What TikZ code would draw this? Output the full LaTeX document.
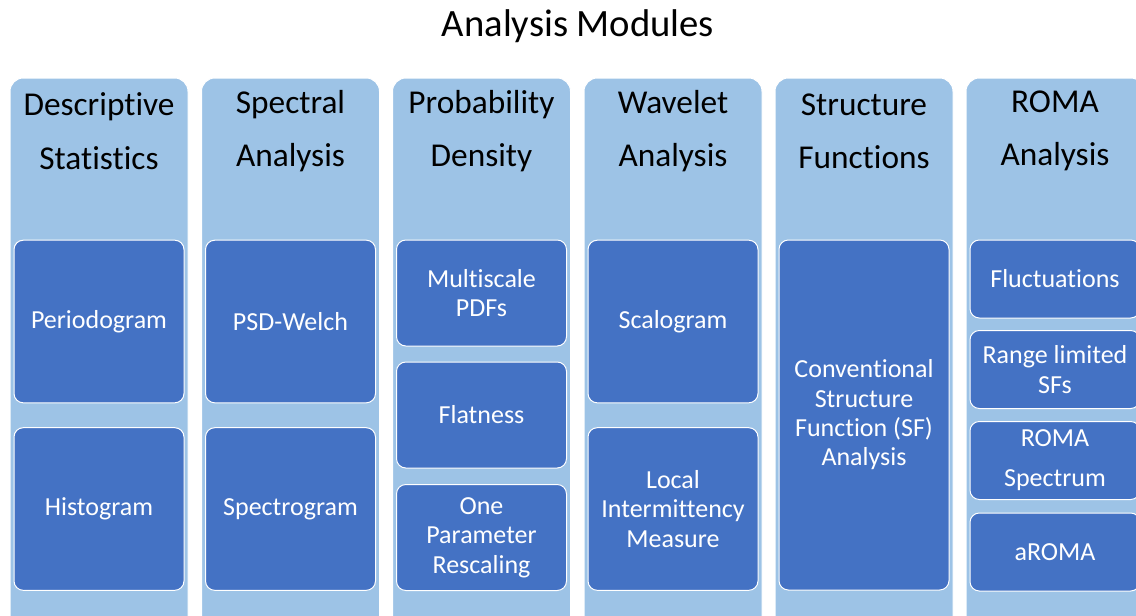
\documentclass[tikz,border=0pt]{standalone}
\usepackage{fontspec}
\setmainfont{Carlito}[Ligatures=NoCommon]
\usepackage{xcolor}
\definecolor{lightcol}{HTML}{9DC3E6}
\definecolor{darkcol}{HTML}{4472C4}

\begin{document}
\begin{tikzpicture}[x=0.75pt, y=-0.75pt,
    colbox/.style={fill=lightcol, draw=white, line width=0.75pt, rounded corners=10pt},
    heading/.style={align=center, font=\fontsize{25}{40}\selectfont},
    subbox/.style={fill=darkcol, draw=white, line width=0.75pt, rounded corners=7pt,
      text=white, align=center, minimum width=127.5pt, inner sep=2pt,
      font=\fontsize{19.5}{22}\selectfont}]
  \useasboundingbox (0,0) rectangle (1136,615);
  \clip (0,0) rectangle (1136,615);

  % Title
  \node[font=\fontsize{29}{34}\selectfont] (title) at (578,26) {Analysis Modules};

  % Columns
  \foreach \x in {99,290.5,481.5,673,864,1055} {
    \draw[colbox] (\x-89,78) rectangle (\x+89,640);
  }

  % Column headings
  \node[heading] (descr) at (99,131) {Descriptive\\Statistics};
  \node[heading] (spec) at (290.5,131) {Spectral\\Analysis};
  \node[heading] (prob) at (481.5,131) {Probability\\Density};
  \node[heading] (wave) at (673,131) {Wavelet\\Analysis};
  \node[heading] (struct) at (864,131) {Structure\\Functions};
  \node[heading] (roma) at (1055,131) {ROMA\\Analysis};

  % Descriptive Statistics
  \node[subbox, minimum height=122pt] (period) at (99,321.5) {Periodogram};
  \node[subbox, minimum height=122pt] (histo) at (99,509) {Histogram};

  % Spectral Analysis
  \node[subbox, minimum height=122pt] (psd) at (290.5,321.5) {PSD-Welch};
  \node[subbox, minimum height=122pt] (spectro) at (290.5,509) {Spectrogram};

  % Probability Density
  \node[subbox, minimum height=79.5pt] (pdfs) at (481.5,293) {Multiscale\\PDFs};
  \node[subbox, minimum height=79.5pt] (flat) at (481.5,415) {Flatness};
  \node[subbox, minimum height=79.5pt] (rescale) at (481.5,537.5) {One\\Parameter\\Rescaling};

  % Wavelet Analysis
  \node[subbox, minimum height=122pt] (scalo) at (673,321.5) {Scalogram};
  \node[subbox, minimum height=122pt] (lim) at (673,509) {Local\\Intermittency\\Measure};

  % Structure Functions
  \node[subbox, minimum height=262.5pt] (csf) at (864,415) {Conventional\\Structure\\Function (SF)\\Analysis};

  % ROMA Analysis
  \node[subbox, minimum height=58.5pt] (fluct) at (1055,279) {Fluctuations};
  \node[subbox, minimum height=58.5pt] (rlsf) at (1055,369.5) {Range limited\\SFs};
  \node[subbox, minimum height=58.5pt, font=\fontsize{19.5}{30}\selectfont] (romaspec) at (1055,460.5) {ROMA\\Spectrum};
  \node[subbox, minimum height=58.5pt] (aroma) at (1055,552) {aROMA};

\end{tikzpicture}
\end{document}
